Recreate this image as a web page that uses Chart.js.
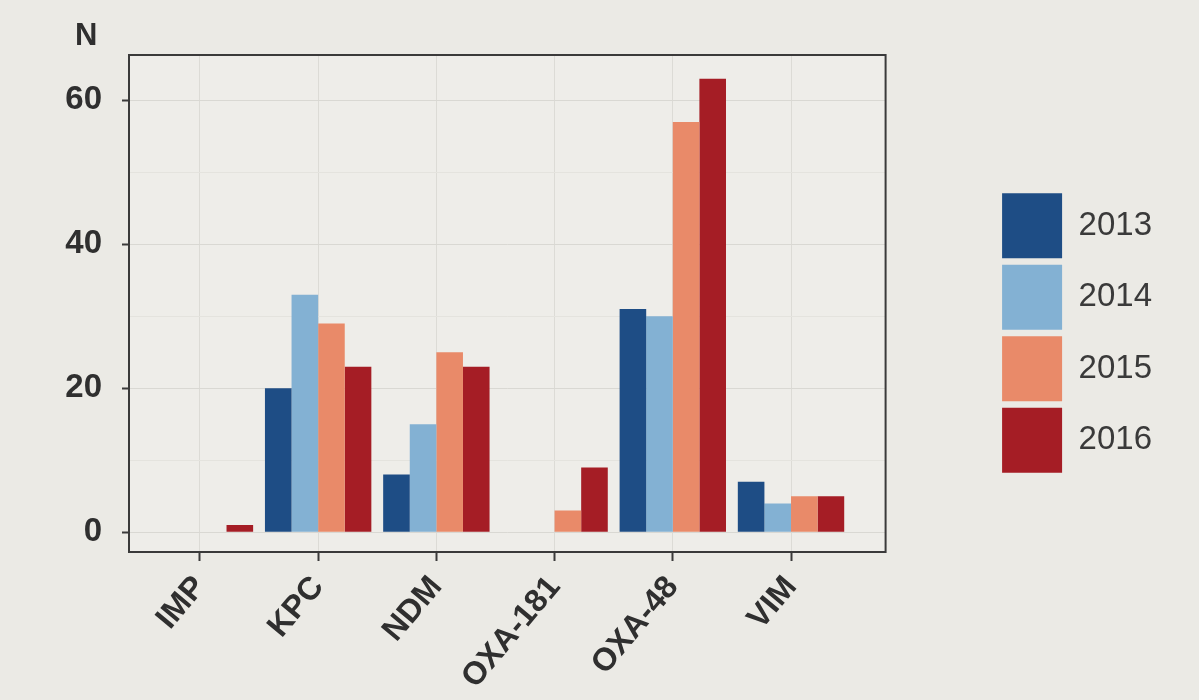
<!DOCTYPE html>
<html>
<head>
<meta charset="utf-8">
<title>Carbapenemase types by year</title>
<script src="https://cdn.jsdelivr.net/npm/chart.js@4/dist/chart.umd.min.js"></script>
<style>
  html, body { margin: 0; padding: 0; background: #ebeae5; }
  #wrap { width: 1199px; height: 700px; position: relative; }
</style>
</head>
<body>
<div id="wrap"><canvas id="chart" width="1199" height="700"></canvas></div>
<script>
// Enzyme families on the x axis
const categories = ['IMP', 'KPC', 'NDM', 'OXA-181', 'OXA-48', 'VIM'];

// Number of isolates per year
const years = ['2013', '2014', '2015', '2016'];
const n2013 = [0, 20, 8, 0, 31, 7];
const n2014 = [0, 33, 15, 0, 30, 4];
const n2015 = [0, 29, 25, 3, 57, 5];
const n2016 = [1, 23, 23, 9, 63, 5];

// y axis: labelled ticks and minor grid steps
const yLabelTicks = [0, 20, 40, 60];
const yGridTicks = [0, 10, 20, 30, 40, 50, 60];
const yTitle = 'N';

const series = [n2013, n2014, n2015, n2016];
const colors = ['#1e4d85', '#83b1d3', '#e98a69', '#a51d25'];

const INK = '#2f2f2f';
const FONT = "'Liberation Sans', Arial, sans-serif";

const datasets = years.map((yr, k) => ({
  label: yr,
  data: series[k].map((v, i) => ({ x: i + 1, y: v })),
  backgroundColor: colors[k],
  borderWidth: 0,
  categoryPercentage: 0.9,
  barPercentage: 1.0
}));

// Panel background, full frame around the plotting area and the axis title
const panelFrame = {
  id: 'panelFrame',
  beforeDraw(chart) {
    const { ctx, chartArea: a } = chart;
    ctx.save();
    ctx.fillStyle = '#eeede9';
    ctx.fillRect(a.left, a.top, a.right - a.left, a.bottom - a.top);
    ctx.restore();
  },
  afterDatasetsDraw(chart) {
    const { ctx, chartArea: a } = chart;
    ctx.save();
    ctx.strokeStyle = '#3a3a3a';
    ctx.lineWidth = 2;
    ctx.strokeRect(a.left, a.top, a.right - a.left, a.bottom - a.top);
    ctx.restore();
  },
  afterDraw(chart) {
    const { ctx, chartArea: a } = chart;
    ctx.save();
    ctx.fillStyle = INK;
    ctx.font = "bold 31px " + FONT;
    ctx.textAlign = 'left';
    ctx.textBaseline = 'alphabetic';
    ctx.fillText(yTitle, a.left - 54, a.top - 10);
    ctx.restore();
  }
};

new Chart(document.getElementById('chart'), {
  type: 'bar',
  data: { datasets },
  plugins: [panelFrame],
  options: {
    responsive: false,
    animation: false,
    layout: { padding: { left: 30, top: 55, right: 37, bottom: 0 } },
    plugins: {
      legend: {
        position: 'right',
        fullSize: false,
        title: { display: true, text: '', font: { size: 10 }, padding: 23.5 },
        labels: {
          boxWidth: 60,
          boxHeight: 65,
          padding: 6.5,
          color: '#3a3a3a',
          font: { family: FONT, size: 33 }
        }
      },
      tooltip: { enabled: false }
    },
    scales: {
      x: {
        type: 'linear',
        offset: false,
        min: 0.4,
        max: 6.8,
        afterBuildTicks(s) { s.ticks = categories.map((c, i) => ({ value: i + 1 })); },
        afterFit(s) { s.height = 700 - 552; },
        ticks: {
          autoSkip: false,
          minRotation: 50,
          maxRotation: 50,
          padding: 8,
          color: INK,
          font: { family: FONT, size: 32, weight: 'bold' },
          callback: (v) => categories[Math.round(v) - 1] || ''
        },
        grid: { offset: false, color: '#dcdbd6', lineWidth: 1, tickLength: 9, tickColor: '#3a3a3a', tickWidth: 2 },
        border: { display: false }
      },
      y: {
        min: -2.75,
        max: 66.3,
        afterBuildTicks(s) { s.ticks = yGridTicks.map(v => ({ value: v })); },
        afterFit(s) { s.width = 129 - 30; },
        ticks: {
          padding: 20,
          color: INK,
          font: { family: FONT, size: 33, weight: 'bold' },
          callback: (v) => yLabelTicks.includes(v) ? String(v) : ''
        },
        grid: {
          color: (c) => (c.tick && yLabelTicks.includes(c.tick.value)) ? '#d9d8d3' : '#e4e3de',
          lineWidth: 1,
          tickLength: 7,
          tickWidth: 2,
          tickColor: (c) => (c.tick && yLabelTicks.includes(c.tick.value)) ? '#3a3a3a' : 'rgba(0,0,0,0)'
        },
        border: { display: false }
      },
      // empty spacer between the panel and the legend
      gap: {
        type: 'linear',
        position: 'right',
        display: true,
        afterFit(s) { s.width = 110; },
        ticks: { display: false },
        grid: { display: false, drawTicks: false },
        border: { display: false }
      }
    }
  }
});
</script>
</body>
</html>
